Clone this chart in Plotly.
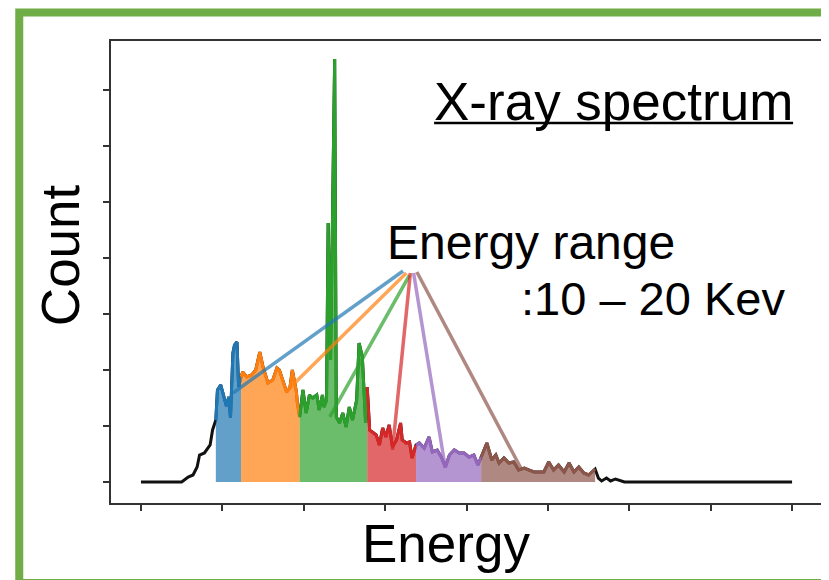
import numpy as np
import plotly.graph_objects as go

# ---------------- data ----------------
energy = [0.00, 0.50, 0.58, 0.64, 0.69, 0.72, 0.78, 0.85, 0.88, 0.92,
          0.94, 0.98, 1.02, 1.05, 1.08, 1.10, 1.13, 1.15, 1.18, 1.20, 1.23,
          1.25, 1.30, 1.36, 1.41, 1.46, 1.50, 1.56, 1.62, 1.67, 1.70, 1.74,
          1.79, 1.83, 1.86, 1.91, 1.92, 1.95,
          1.99, 2.03, 2.07, 2.11, 2.16, 2.19, 2.23, 2.25, 2.28, 2.30, 2.33,
          2.38, 2.40, 2.44, 2.48, 2.52, 2.56, 2.60, 2.65, 2.68, 2.72, 2.76,
          2.78, 2.81, 2.84, 2.89, 2.93, 2.97, 3.01, 3.05, 3.09, 3.14, 3.19,
          3.21, 3.26, 3.30, 3.33, 3.38,
          3.42, 3.48, 3.54, 3.58, 3.64, 3.69, 3.74, 3.79, 3.85, 3.91, 3.97,
          4.03, 4.09, 4.14, 4.18,
          4.25, 4.31, 4.36, 4.40, 4.46, 4.52, 4.58, 4.64, 4.71, 4.77, 4.83,
          4.89, 4.95, 5.01, 5.07, 5.13, 5.20, 5.26, 5.32, 5.38, 5.44, 5.50,
          5.58,
          5.62, 5.66, 5.72, 5.77, 5.83, 5.89, 5.94, 8.00]
count = [0, 0, 89, 125, 268, 482, 518, 661, 929, 1107,
         1643, 1732, 1518, 1357, 1518, 1143, 2304, 2446, 2500, 1696, 1875,
         1964, 1875, 1911, 2000, 2321, 2054, 1768, 1821, 2036, 2000, 1821,
         1607, 1679, 2000, 1607, 1429, 1161,
         1643, 1232, 1554, 1500, 1554, 1286, 1554, 1339, 1464, 4625, 2179,
         7554, 1161, 1054, 1232, 982, 1339, 1107, 1464, 2482, 2232, 1054,
         1696, 929, 893, 839, 661, 964, 804, 1018, 625, 750, 1054,
         750, 696, 714, 429, 661,
         696, 607, 804, 536, 571, 446, 268, 482, 571, 518, 518,
         446, 482, 304, 446,
         696, 393, 482, 339, 429, 339, 357, 214, 250, 214, 179,
         179, 179, 357, 214, 304, 179, 339, 179, 268, 161, 125,
         232,
         71, 18, 71, 18, 54, 18, 0, 0]

# boundaries of the coloured energy bands
band_edges = [0.92, 1.23, 1.95, 2.78, 3.38, 4.18, 5.58]
band_colors = ["#1f77b4", "#ff7f0e", "#2ca02c", "#d62728", "#9467bd", "#8c564b"]
band_fills = ["rgba(31,119,180,0.7)", "rgba(255,127,14,0.7)", "rgba(44,160,44,0.7)",
              "rgba(214,39,40,0.7)", "rgba(148,103,189,0.7)", "rgba(140,86,75,0.7)"]

# pointer lines: from the label to each band (data coordinates)
ptr_x0 = [3.22, 3.26, 3.30, 3.31, 3.35, 3.39]
ptr_y0 = [3768, 3732, 3696, 3732, 3732, 3750]
ptr_x1 = [1.13, 1.79, 2.32, 3.09, 3.74, 4.68]
ptr_y1 = [1589, 1625, 1161, 571, 250, 214]

x_ticks = list(range(0, 9))
y_ticks = list(range(0, 8000, 1000))

# ---------------- figure ----------------
OFF = 8                      # page body margin
W, H = 829 - OFF, 580 - OFF
L, T = 111 - OFF, 41 - OFF
R = W - (825 - OFF)
B = H - (503 - OFF)
pw, ph = W - L - R, H - T - B


def px(x):
    """page pixel x -> paper fraction"""
    return (x - OFF - L) / pw


def py(y):
    """page pixel y -> paper fraction"""
    return (H - B - (y - OFF)) / ph


e = np.array(energy)
c = np.array(count)

fig = go.Figure()
# full spectrum in black
fig.add_trace(go.Scatter(x=e, y=c, mode="lines",
                         line=dict(color="#111111", width=3), hoverinfo="skip"))
# coloured bands
for i in range(len(band_colors)):
    m = (e >= band_edges[i]) & (e <= band_edges[i + 1])
    fig.add_trace(go.Scatter(x=e[m], y=c[m], mode="lines", fill="tozeroy",
                             fillcolor=band_fills[i],
                             line=dict(color=band_colors[i], width=3)))
# pointer lines
for i in range(len(band_colors)):
    fig.add_trace(go.Scatter(x=[ptr_x0[i], ptr_x1[i]], y=[ptr_y0[i], ptr_y1[i]],
                             mode="lines",
                             line=dict(color=band_fills[i], width=3.5)))

font_main = "Liberation Sans, Arial, sans-serif"
ann = [
    dict(text="X-ray spectrum", x=px(615), y=py(101), size=53),
    dict(text="Count", x=px(60), y=py(255), size=53, angle=-90),
    dict(text="Energy", x=px(447), y=py(543), size=53),
]
annotations = []
for a in ann:
    annotations.append(dict(text=a["text"], x=a["x"], y=a["y"], xref="paper", yref="paper",
                            xanchor="center", yanchor="middle", showarrow=False,
                            textangle=a.get("angle", 0),
                            font=dict(family=font_main, size=a["size"], color="black")))
annotations.append(dict(text="Energy range", x=px(386), y=py(243), xref="paper", yref="paper",
                        xanchor="left", yanchor="middle", showarrow=False,
                        font=dict(family=font_main, size=48, color="black")))
annotations.append(dict(text=":10 – 20 Kev", x=px(520), y=py(298), xref="paper", yref="paper",
                        xanchor="left", yanchor="middle", showarrow=False,
                        font=dict(family=font_main, size=47, color="black")))

fig.update_layout(
    width=W, height=H,
    margin=dict(l=L, r=R, t=T, b=B),
    paper_bgcolor="white", plot_bgcolor="white",
    showlegend=False,
    annotations=annotations,
    shapes=[
        dict(type="rect", xref="paper", yref="paper",
             x0=px(19), x1=px(835), y0=py(583), y1=py(12.5),
             line=dict(color="#70ad47", width=8), fillcolor="rgba(0,0,0,0)", layer="below"),
        dict(type="line", xref="paper", yref="paper",
             x0=px(435), x1=px(795), y0=py(123), y1=py(123),
             line=dict(color="black", width=2.5)),
    ],
)
axis_common = dict(showgrid=False, zeroline=False, showline=True, mirror=True,
                   linecolor="#333333", linewidth=1.5, ticks="outside", ticklen=6,
                   tickwidth=1.5, tickcolor="#333333", showticklabels=False)
fig.update_xaxes(range=[-0.368, 8.38], tickvals=x_ticks, **axis_common)
fig.update_yaxes(range=[-375, 7875], tickvals=y_ticks, **axis_common)

fig.write_html("out.html")
